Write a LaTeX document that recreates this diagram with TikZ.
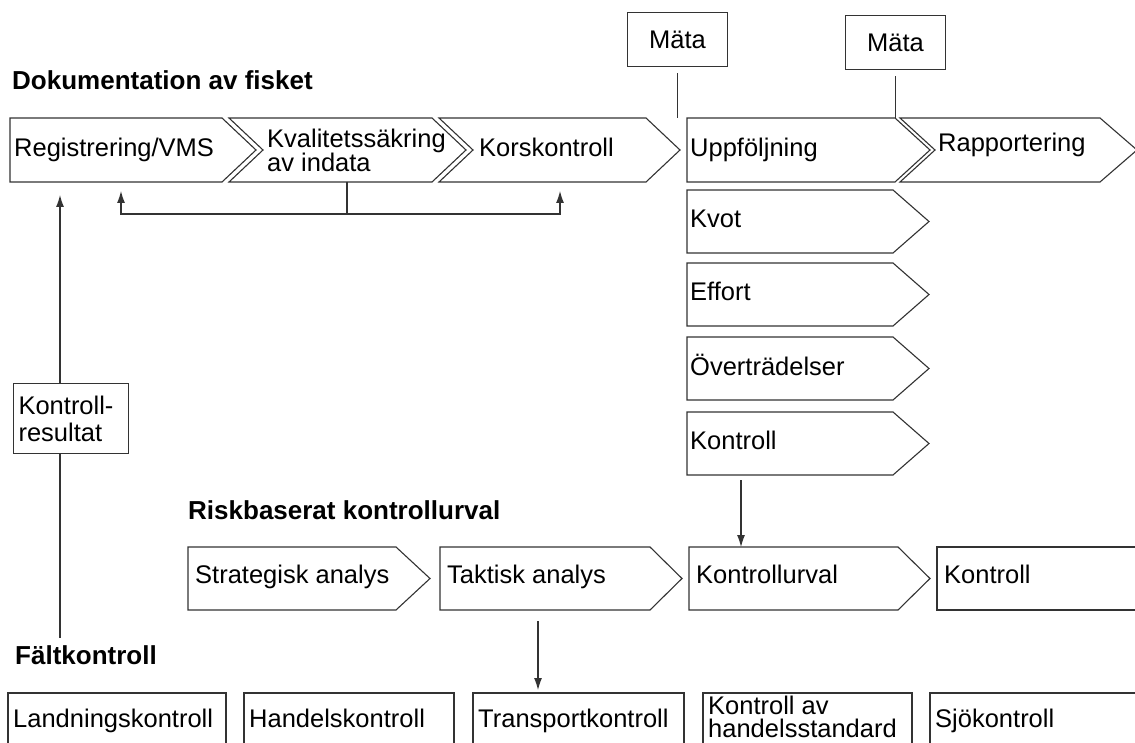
\documentclass[tikz,border=0pt]{standalone}
\usepackage{fontspec}
\setmainfont{Liberation Sans}
\usetikzlibrary{arrows.meta}

\begin{document}
\begin{tikzpicture}[x=1pt, y=-1pt,
	pil/.style={draw=black!80, line width=1.1pt, line join=miter},
	tip/.style={-{Latex[length=12pt, width=8pt]}},
	txt/.style={anchor=base west, inner sep=0pt, align=left, font=\fontsize{25.5}{21}\selectfont},
	rubrik/.style={anchor=base west, inner sep=0pt, font=\fontsize{26}{28}\selectfont\bfseries},
	ruta/.style={draw=black!80, line width=1.1pt, anchor=north west, inner sep=0pt, font=\fontsize{25.5}{27}\selectfont}]
	\clip (0,0) rectangle (1135,743);
	\fill[white] (0,0) rectangle (1135,743);
	% rubriker
	\node[rubrik] (dok) at (12,90) {Dokumentation av fisket};
	\node[rubrik] (risk) at (188,519) {Riskbaserat kontrollurval};
	\node[rubrik] (falt) at (15,664) {Fältkontroll};
	% dokumentation av fisket
	\draw[pil] (10,118) -- (222,118) -- (256,150) -- (222,182) -- (10,182) -- cycle;
	\draw[pil] (229,118) -- (432,118) -- (466,150) -- (432,182) -- (229,182) -- (263,150) -- cycle;
	\draw[pil] (439,118) -- (646,118) -- (680,150) -- (646,182) -- (439,182) -- (473,150) -- cycle;
	\node[txt] (reg) at (14,157) {Registrering/VMS};
	\node[txt] (kval) at (267,172) {Kvalitetssäkring\\av indata};
	\node[txt] (kors) at (479,157) {Korskontroll};
	\coordinate (reg-l) at (60,182);
	\coordinate (reg-s) at (121,182);
	\coordinate (kval-s) at (347,182);
	\coordinate (kors-s) at (560,182);
	% uppfoljning
	\draw[pil] (687,118) coordinate (upp-nw) -- (895,118) -- (930,150) -- (895,182) -- (687,182) -- cycle;
	\draw[pil] (900,118) -- (1100,118) -- (1137,150) -- (1100,182) -- (900,182) -- (935,150) -- cycle;
	\node[txt] (upp) at (690,157) {Uppföljning};
	\node[txt] (rapp) at (938,152) {Rapportering};
	\node[ruta, minimum width=100pt, minimum height=54pt] (mata1) at (627,12) {Mäta};
	\node[ruta, minimum width=100pt, minimum height=54pt] (mata2) at (845,15) {Mäta};
	\draw[pil] ([yshift=-6pt]mata1.south) -- (mata1.south |- upp-nw);
	\draw[pil] ([yshift=-6pt]mata2.south) -- (mata2.south |- upp-nw);
	% underrubriker
	\draw[pil] (687,190) -- (893,190) -- (929,221.5) -- (893,253) -- (687,253) -- cycle;
	\draw[pil] (687,263) -- (893,263) -- (929,294.5) -- (893,326) -- (687,326) -- cycle;
	\draw[pil] (687,337) -- (893,337) -- (929,368.5) -- (893,400) -- (687,400) -- cycle;
	\draw[pil] (687,412) -- (893,412) -- (929,443.5) -- (893,475) -- (687,475) -- cycle;
	\node[txt] (kvot) at (690,228) {Kvot};
	\node[txt] (effort) at (690,301) {Effort};
	\node[txt] (overtr) at (690,375) {Överträdelser};
	\node[txt] (kontroll) at (690,449) {Kontroll};
	\coordinate (kontroll-s) at (741,475);
	% riskbaserat kontrollurval
	\draw[pil] (188,547) -- (396,547) -- (430,578.5) -- (396,610) -- (188,610) -- cycle;
	\draw[pil] (440,547) -- (650,547) -- (682,578.5) -- (650,610) -- (440,610) -- cycle;
	\draw[pil] (689,547) coordinate (kurval-nw) -- (898,547) -- (930,578.5) -- (898,610) -- (689,610) -- cycle;
	\draw[pil] (937,547) rectangle (1145,610);
	\node[txt] (strat) at (195,583) {Strategisk analys};
	\node[txt] (takt) at (447,583) {Taktisk analys};
	\node[txt] (kurval) at (696,583) {Kontrollurval};
	\node[txt] (kontroll2) at (944,583) {Kontroll};
	\coordinate (takt-s) at (538,610);
	% faltkontroll
	\draw[pil] (8,693) rectangle (226,760);
	\draw[pil] (244,693) rectangle (454,760);
	\draw[pil] (473,693) coordinate (transp-nw) rectangle (684,760);
	\draw[pil] (703,693) rectangle (912,760);
	\draw[pil] (930,693) rectangle (1145,760);
	\node[txt] (land) at (13,727) {Landningskontroll};
	\node[txt] (handel) at (249,727) {Handelskontroll};
	\node[txt] (transp) at (478,727) {Transportkontroll};
	\node[txt, font=\fontsize{25.5}{23}\selectfont] (hstd) at (708,737) {Kontroll av\\handelsstandard};
	\node[txt] (sjo) at (935,727) {Sjökontroll};
	\node[ruta, text width=105pt, inner xsep=5pt, minimum height=70pt, align=left] (kres) at (13,383) {Kontroll-\\resultat};
	\coordinate (falt-n) at (60,638);
	% pilar
	\draw[pil, tip] (kres.north -| reg-l) -- ([yshift=-13pt]reg-l);
	\draw[pil] (kres.south -| reg-l) -- (falt-n);
	\draw[pil] (kval-s) -- ++(0,32) coordinate (brk);
	\draw[pil, tip] (kval-s |- brk) -- (reg-s |- brk) -- ([yshift=-9pt]reg-s);
	\draw[pil, tip] (kval-s |- brk) -- (kors-s |- brk) -- ([yshift=-9pt]kors-s);
	\draw[pil, tip] ([yshift=-5pt]kontroll-s) -- (kontroll-s |- kurval-nw);
	\draw[pil, tip] ([yshift=-11pt]takt-s) -- ([yshift=3pt]takt-s |- transp-nw);
\end{tikzpicture}
\end{document}
